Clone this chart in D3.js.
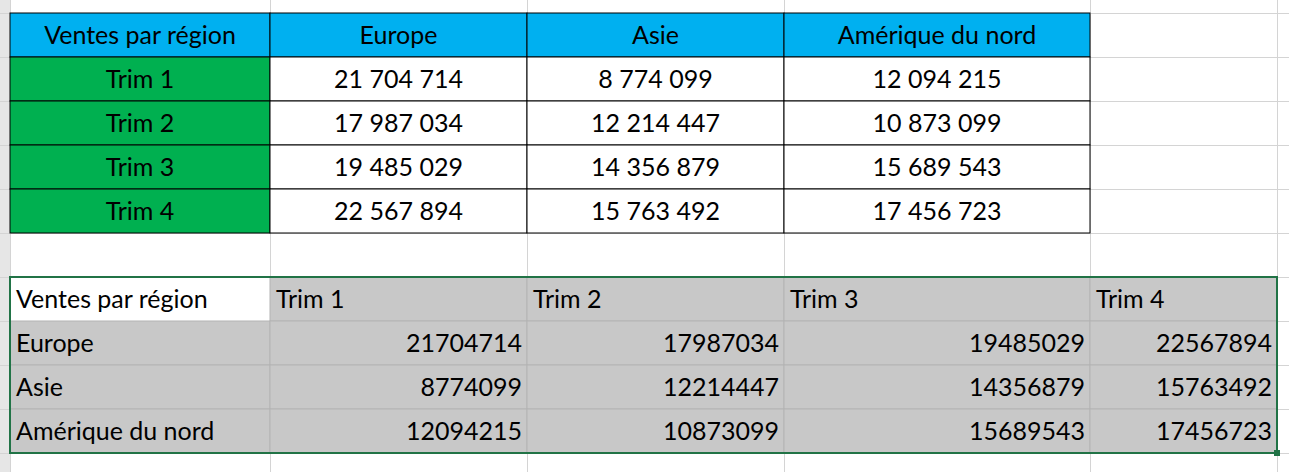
<!DOCTYPE html>
<html><head><meta charset="utf-8">
<script src="https://cdn.jsdelivr.net/npm/d3@7"></script>
<style>body{margin:0;background:#fff}</style>
</head><body>
<svg id="sheet" width="1289" height="472"></svg>
<script>
var title = "Ventes par région";
var regions = ["Europe", "Asie", "Amérique du nord"];
var quarters = ["Trim 1", "Trim 2", "Trim 3", "Trim 4"];
var europe = [21704714, 17987034, 19485029, 22567894];
var asie = [8774099, 12214447, 14356879, 15763492];
var amerique = [12094215, 10873099, 15689543, 17456723];
var series = [europe, asie, amerique];

var svg = d3.select("#sheet"),
    font = "Lato, 'Open Sans', sans-serif";

// spreadsheet columns and rows
var colEdges = [10, 270, 527, 784, 1090, 1277, 1289];
var rowTop = -31, rowH = 44, nRows = 12;
var rowY = d3.scaleLinear().domain([0, 1]).range([rowTop, rowTop + rowH]);

// grid background
svg.append("rect").attr("width", 10).attr("height", 472).attr("fill", "#e6e6e6");
var grid = svg.append("g").attr("stroke", "#d4d4d4").attr("stroke-width", 1);
colEdges.forEach(x => grid.append("line").attr("x1", x + 0.5).attr("x2", x + 0.5).attr("y1", 0).attr("y2", 472));
d3.range(nRows).forEach(r => grid.append("line").attr("x1", 0).attr("x2", 1289)
    .attr("y1", rowY(r) + 0.5).attr("y2", rowY(r) + 0.5));

function cell(g, c, r, opts) {
    var x0 = colEdges[c], x1 = colEdges[c + 1], y0 = rowY(r), y1 = rowY(r + 1);
    if (opts.fill) g.append("rect").attr("x", x0).attr("y", y0).attr("width", x1 - x0).attr("height", y1 - y0)
        .attr("fill", opts.fill).attr("stroke", opts.stroke || "none").attr("stroke-width", 1);
    var t = g.append("text").attr("y", (y0 + y1) / 2 + 9).attr("font-family", font).attr("font-size", 25).attr("fill", "#000")
        .text(opts.text);
    if (opts.align === "middle") t.attr("x", (x0 + x1) / 2).attr("text-anchor", "middle");
    else if (opts.align === "end") t.attr("x", x1 - 5).attr("text-anchor", "end");
    else t.attr("x", x0 + 6);
}

var spaced = d3.formatLocale({ decimal: ",", thousands: "\u00a0", grouping: [3], currency: ["", ""] }).format(",d");

// top table: regions as columns
var topTable = svg.append("g");
cell(topTable, 0, 1, { fill: "#00b0f0", stroke: "#000", text: title, align: "middle" });
regions.forEach((reg, i) => cell(topTable, i + 1, 1, { fill: "#00b0f0", stroke: "#000", text: reg, align: "middle" }));
quarters.forEach((q, r) => {
    cell(topTable, 0, r + 2, { fill: "#00b050", stroke: "#000", text: q, align: "middle" });
    series.forEach((s, i) => cell(topTable, i + 1, r + 2, { fill: "#fff", stroke: "#000", text: spaced(s[r]), align: "middle" }));
});

// bottom table: transposed, selected
var botTable = svg.append("g");
cell(botTable, 0, 7, { fill: "#fff", text: title });
quarters.forEach((q, i) => cell(botTable, i + 1, 7, { fill: "#c8c8c8", stroke: "#b4b4b4", text: q }));
regions.forEach((reg, r) => {
    cell(botTable, 0, r + 8, { fill: "#c8c8c8", stroke: "#b4b4b4", text: reg });
    series[r].forEach((v, i) => cell(botTable, i + 1, r + 8, { fill: "#c8c8c8", stroke: "#b4b4b4", text: v, align: "end" }));
});
// selection border
svg.append("rect").attr("x", colEdges[0]).attr("y", rowY(7)).attr("width", colEdges[5] - colEdges[0])
    .attr("height", rowY(11) - rowY(7)).attr("fill", "none").attr("stroke", "#217346").attr("stroke-width", 2);
svg.append("rect").attr("x", colEdges[5] - 3).attr("y", rowY(11) - 3).attr("width", 6).attr("height", 6).attr("fill", "#217346");
</script>
</body></html>
